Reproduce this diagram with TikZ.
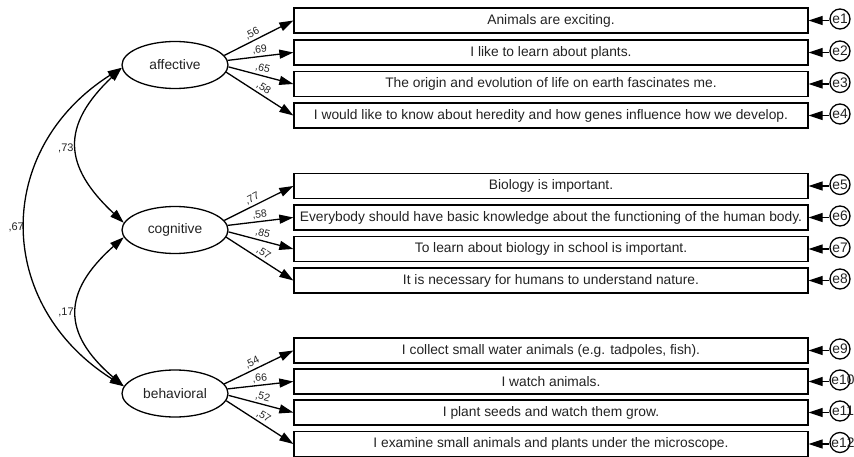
\documentclass[tikz,border=0pt]{standalone}
\usepackage{fontspec}
\setmainfont{Liberation Sans}
\usetikzlibrary{shapes.geometric,arrows.meta}
\definecolor{txt}{HTML}{222222}
\begin{document}
\begin{tikzpicture}[x=1pt,y=-1pt,
  latent/.style={ellipse, draw, line width=1.3pt, minimum width=106pt, minimum height=47pt, inner sep=0pt, text=txt, font=\fontsize{13.8}{16}\selectfont},
  item/.style={rectangle, draw, line width=1.3pt, minimum width=514pt, minimum height=25pt, inner sep=0pt, text=txt, font=\fontsize{13.8}{16}\selectfont},
  errc/.style={circle, draw, line width=1.3pt, minimum size=20pt, inner sep=0pt},
  errt/.style={inner sep=0pt, text=txt, font=\fontsize{13.8}{16}\selectfont},
  reg/.style={-{Triangle[length=14pt,width=9pt]}, line width=1.3pt},
  cov/.style={{Triangle[length=14pt,width=9pt]}-{Triangle[length=14pt,width=9pt]}, line width=1.3pt},
  elab/.style={above, sloped, pos=0.5, inner sep=2pt, text=txt, font=\fontsize{10.5}{12}\selectfont},
  clab/.style={left, inner sep=3pt, text=txt, font=\fontsize{11}{13}\selectfont}
]
\useasboundingbox (0,0) rectangle (854,457);

% latent variables
\node[latent] (aff) at (175,65) {affective};
\node[latent] (cog) at (175,230) {cognitive};
\node[latent] (beh) at (175,393.5) {behavioral};

% items
\node[item] (b1) at (551,20.5) {Animals are exciting.};
\node[item] (b2) at (551,52.5) {I like to learn about plants.};
\node[item] (b3) at (551,84) {The origin and evolution of life on earth fascinates me.};
\node[item] (b4) at (551,115.5) {I would like to know about heredity and how genes influence how we develop.};
\node[item] (b5) at (551,186) {Biology is important.};
\node[item] (b6) at (551,217.5) {Everybody should have basic knowledge about the functioning of the human body.};
\node[item] (b7) at (551,249) {To learn about biology in school is important.};
\node[item] (b8) at (551,280.5) {It is necessary for humans to understand nature.};
\node[item] (b9) at (551,350.5) {I collect small water animals (e.g. tadpoles, fish).};
\node[item] (b10) at (551,381.5) {I watch animals.};
\node[item] (b11) at (551,412.5) {I plant seeds and watch them grow.};
\node[item] (b12) at (551,444) {I examine small animals and plants under the microscope.};

% error terms
\foreach \i/\y in {1/20.5,2/52.5,3/84,4/115.5,5/186,6/217.5,7/249,8/280.5,9/350.5}{
  \node[errc] (e\i) at (840,\y-1.5) {};
  \node[errt] (t\i) at (840,\y-1.5) {e\i};
  \draw[reg] (b\i.east -| e\i.west) -- (b\i.east);
}
\foreach \i/\y in {10/381.5,11/412.5,12/444}{
  \node[errc] (e\i) at (840,\y-1.5) {};
  \node[errt] (t\i) at (843,\y-1.5) {e\i};
  \draw[reg] (b\i.east -| e\i.west) -- (b\i.east);
}

% loadings
\draw[reg] (aff.11) -- node[elab, pos=0.45]{,56} (b1.west);
\draw[reg] (aff.5) -- node[elab]{,69} (b2.west);
\draw[reg] (aff.-2) -- node[elab]{,65} (b3.west);
\draw[reg] (aff.-8) -- node[elab]{,58} (b4.west);

\draw[reg] (cog.11) -- node[elab, pos=0.45]{,77} (b5.west);
\draw[reg] (cog.5) -- node[elab]{,58} (b6.west);
\draw[reg] (cog.-2) -- node[elab]{,85} (b7.west);
\draw[reg] (cog.-8) -- node[elab]{,57} (b8.west);

\draw[reg] (beh.11) -- node[elab, pos=0.45]{,54} (b9.west);
\draw[reg] (beh.5) -- node[elab]{,66} (b10.west);
\draw[reg] (beh.-2) -- node[elab]{,52} (b11.west);
\draw[reg] (beh.-8) -- node[elab]{,57} (b12.west);

% covariances
\draw[cov] (aff.183) .. controls +(-61,58) and +(-61,-57) .. node[clab, pos=0.52] (l73) {,73} (cog.172);
\draw[cov] (aff.183) .. controls +(-129,82) and +(-129,-81) .. node[clab, pos=0.5, inner sep=1.5pt] (l67) {,67} (beh.172);
\draw[cov] (cog.188) .. controls +(-62,55) and +(-62,-53) .. node[clab, pos=0.5] (l17) {,17} (beh.172);
\end{tikzpicture}
\end{document}
